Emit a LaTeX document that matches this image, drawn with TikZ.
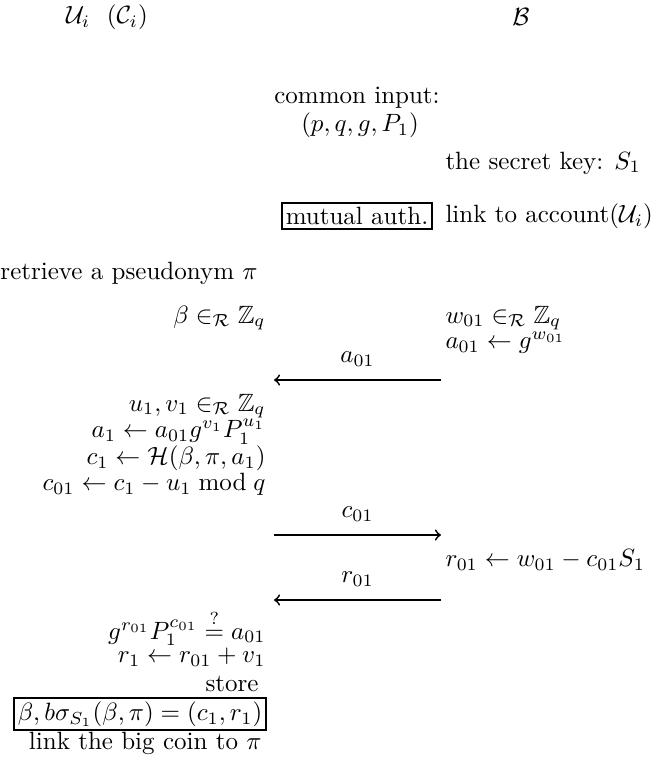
\documentclass[tikz,border=0pt]{standalone}
\usepackage{amsmath,amssymb}
\begin{document}
\begin{tikzpicture}[x=0.4pt,y=-0.4pt,
  lt/.style={anchor=east,inner sep=0pt},
  rt/.style={anchor=west,inner sep=0pt},
  ct/.style={inner sep=0pt},
  boxed/.style={draw,line width=0.8pt,inner sep=1.5pt},
  msg/.style={line width=0.7pt,-to}]
\useasboundingbox (0,0) rectangle (659,768);
\node[ct] (hu) at (107,17) {$\mathcal{U}_i\ \ (\mathcal{C}_i)$};
\node[ct] (hb) at (521,17) {$\mathcal{B}$};
\node[ct] (ci1) at (357,98) {common input:};
\node[ct] (ci2) at (360,125) {$(p,q,g,P_1)$};
\node[rt] (sk) at (445,163) {the secret key: $S_1$};
\node[boxed] (ma) at (357,216) {mutual auth.};
\node[rt] (la) at (445,216) {link to account$(\mathcal{U}_i)$};
\node[rt] (rp) at (0,273) {retrieve a pseudonym $\pi$};
\node[lt] (be) at (266,318) {$\beta\in_{\mathcal{R}}\mathbb{Z}_q$};
\node[rt] (w1) at (445,318) {$w_{01}\in_{\mathcal{R}}\mathbb{Z}_q$};
\node[rt] (w2) at (445,343) {$a_{01}\leftarrow g^{w_{01}}$};
\coordinate (m1r) at (441,380);
\coordinate (m1l) at (274,380);
\draw[msg] (m1r) -- node[above=5pt,inner sep=0pt] {$a_{01}$} (m1l);
\node[lt] (u1) at (266,406) {$u_1,v_1\in_{\mathcal{R}}\mathbb{Z}_q$};
\node[lt] (u2) at (266,432) {$a_1\leftarrow a_{01}g^{v_1}P_1^{u_1}$};
\node[lt] (u3) at (266,458) {$c_1\leftarrow\mathcal{H}(\beta,\pi,a_1)$};
\node[lt] (u4) at (266,484) {$c_{01}\leftarrow c_1-u_1\bmod q$};
\coordinate (m2l) at (274,535);
\coordinate (m2r) at (441,535);
\draw[msg] (m2l) -- node[above=5pt,inner sep=0pt] {$c_{01}$} (m2r);
\node[rt] (r1) at (445,560) {$r_{01}\leftarrow w_{01}-c_{01}S_1$};
\coordinate (m3r) at (441,600);
\coordinate (m3l) at (274,600);
\draw[msg] (m3r) -- node[above=5pt,inner sep=0pt] {$r_{01}$} (m3l);
\node[lt] (v1) at (266,628) {$g^{r_{01}}P_1^{c_{01}}\stackrel{?}{=}a_{01}$};
\node[lt] (v2) at (266,657) {$r_1\leftarrow r_{01}+v_1$};
\node[lt] (st) at (259,684) {store};
\node[boxed,anchor=east] (sig) at (267,714) {$\beta,b\sigma_{S_1}(\beta,\pi)=(c_1,r_1)$};
\node[lt] (lk) at (262,743) {link the big coin to $\pi$};
\end{tikzpicture}
\end{document}
